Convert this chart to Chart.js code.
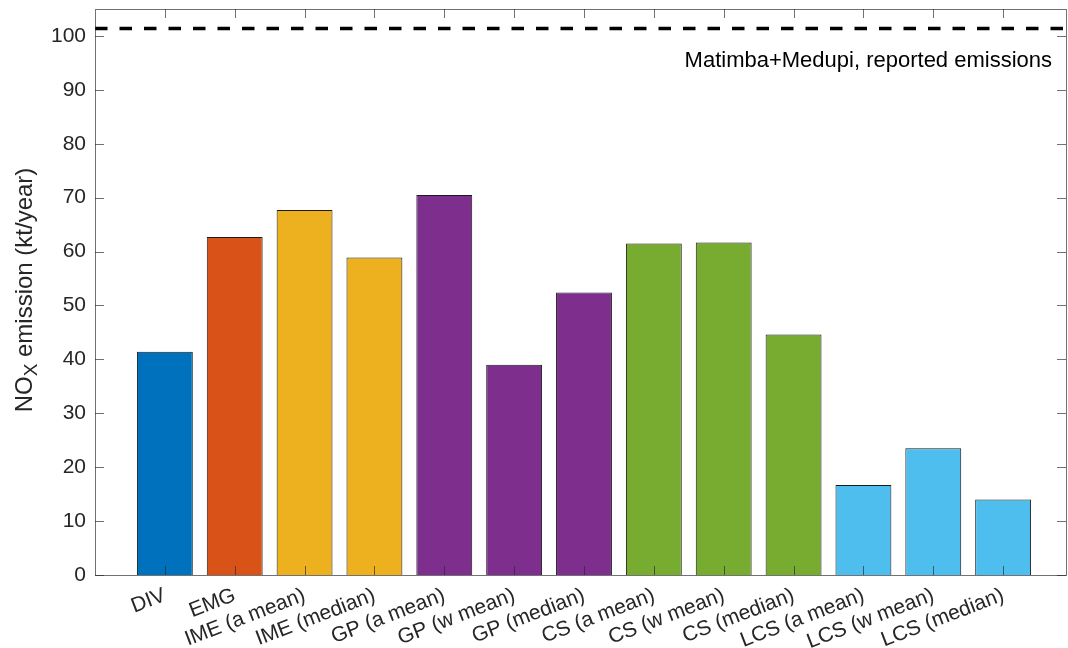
<!DOCTYPE html>
<html>
<head>
<meta charset="utf-8">
<title>NOx emission estimates</title>
<script src="https://cdn.jsdelivr.net/npm/chart.js@4"></script>
<style>
  body { margin: 0; background: #fff; }
  #wrap { width: 1068px; height: 648px; }
</style>
</head>
<body>
<div id="wrap"><canvas id="bars"></canvas></div>
<script>
// estimates per method, kt/year
const methods = ['DIV', 'EMG', 'IME (a mean)', 'IME (median)', 'GP (a mean)', 'GP (w mean)',
  'GP (median)', 'CS (a mean)', 'CS (w mean)', 'CS (median)', 'LCS (a mean)', 'LCS (w mean)', 'LCS (median)'];
const emissions = [41.4, 62.7, 67.7, 58.9, 70.5, 39.0, 52.4, 61.5, 61.7, 44.6, 16.7, 23.5, 14.0];
const barColors = ['#0072BD', '#D95319', '#EDB120', '#EDB120', '#7E2F8E', '#7E2F8E', '#7E2F8E',
  '#77AC30', '#77AC30', '#77AC30', '#4DBEEE', '#4DBEEE', '#4DBEEE'];
const reported = 101.4;
const reportedText = 'Matimba+Medupi, reported emissions';
const yTickValues = [0, 10, 20, 30, 40, 50, 60, 70, 80, 90, 100];

const FONT = '"Liberation Sans", Arial, Helvetica, sans-serif';
const INK = '#262626';

// matlab-style box: border on all sides, ticks pointing inward
const boxPlugin = {
  id: 'box',
  afterDatasetsDraw(chart) {
    const { ctx, chartArea: a, scales: { x, y } } = chart;
    const len = 9;
    ctx.save();
    ctx.strokeStyle = 'rgba(38,38,38,0.65)';
    ctx.lineWidth = 1;
    ctx.beginPath();
    methods.forEach((m, i) => {
      const px = Math.round(x.getPixelForValue(i)) + 0.5;
      ctx.moveTo(px, a.bottom); ctx.lineTo(px, a.bottom - len);
      ctx.moveTo(px, a.top); ctx.lineTo(px, a.top + len);
    });
    yTickValues.forEach(v => {
      const py = Math.round(y.getPixelForValue(v)) + 0.5;
      ctx.moveTo(a.left, py); ctx.lineTo(a.left + len, py);
      ctx.moveTo(a.right, py); ctx.lineTo(a.right - len, py);
    });
    ctx.stroke();
    ctx.strokeRect(Math.round(a.left) + 0.5, Math.round(a.top) + 0.5,
      Math.round(a.right - a.left), Math.round(a.bottom - a.top));
    ctx.restore();
  },
  afterDraw(chart) {
    const { ctx, chartArea: a, scales: { x, y } } = chart;
    ctx.save();
    ctx.fillStyle = '#000';
    ctx.font = '22px ' + FONT;
    ctx.textAlign = 'right';
    ctx.textBaseline = 'middle';
    ctx.fillText(reportedText, x.getPixelForValue(12.7), y.getPixelForValue(95.3));

    // y axis title with subscript X
    const big = '24px ' + FONT, small = '19px ' + FONT;
    const parts = [['NO', big, 0], ['X', small, 7], [' emission (kt/year)', big, 0]];
    let total = 0;
    parts.forEach(p => { ctx.font = p[1]; total += ctx.measureText(p[0]).width; });
    ctx.translate(25, 290);
    ctx.rotate(-Math.PI / 2);
    ctx.fillStyle = INK;
    ctx.textAlign = 'left';
    ctx.textBaseline = 'middle';
    let cx = -total / 2;
    parts.forEach(p => {
      ctx.font = p[1];
      ctx.fillText(p[0], cx, p[2]);
      cx += ctx.measureText(p[0]).width;
    });
    ctx.restore();
  }
};

new Chart(document.getElementById('bars'), {
  type: 'bar',
  data: {
    datasets: [{
      data: emissions.map((v, i) => ({ x: i, y: v })),
      backgroundColor: barColors,
      borderColor: '#1a1a1a',
      borderWidth: 1,
      barPercentage: 0.8,
      categoryPercentage: 1
    }, {
      type: 'line',
      data: [{ x: -1, y: reported }, { x: 12.9, y: reported }],
      borderColor: '#000',
      borderWidth: 3.5,
      borderDash: [12.5, 12],
      pointRadius: 0
    }]
  },
  options: {
    responsive: true,
    maintainAspectRatio: false,
    animation: false,
    layout: { padding: { top: 9, right: 2, left: 0, bottom: 0 } },
    plugins: { legend: { display: false }, tooltip: { enabled: false } },
    scales: {
      x: {
        type: 'linear',
        offset: false,
        min: -1,
        max: 12.9,
        grid: { display: false, drawTicks: false },
        border: { display: false },
        afterBuildTicks: s => { s.ticks = methods.map((m, i) => ({ value: i })); },
        afterFit: s => { s.height = 73; s.paddingLeft = 0; s.paddingRight = 0; },
        ticks: {
          autoSkip: false,
          minRotation: 21,
          maxRotation: 21,
          padding: 8,
          color: INK,
          font: { family: FONT, size: 21 },
          callback: v => methods[v]
        }
      },
      y: {
        min: 0,
        max: 105,
        grid: { display: false, drawTicks: false },
        border: { display: false },
        afterBuildTicks: s => { s.ticks = yTickValues.map(v => ({ value: v })); },
        afterFit: s => { s.width = 95; s.paddingTop = 0; s.paddingBottom = 0; },
        ticks: {
          padding: 9,
          color: INK,
          font: { family: FONT, size: 21 }
        }
      }
    }
  },
  plugins: [boxPlugin]
});
</script>
</body>
</html>
